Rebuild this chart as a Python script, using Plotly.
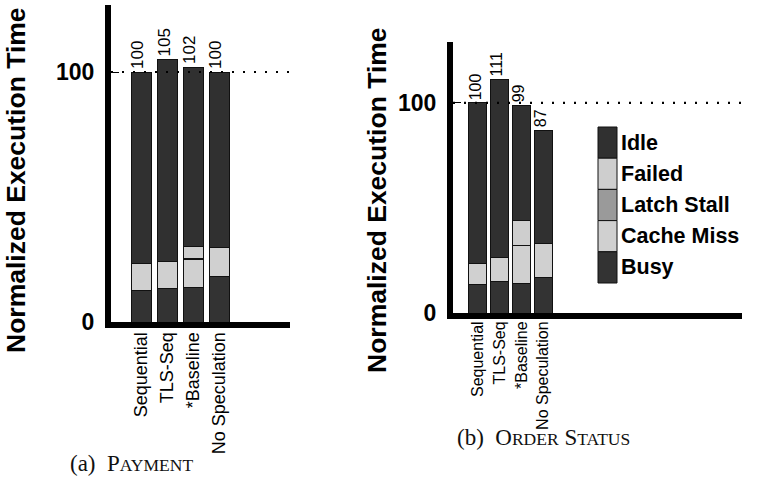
import plotly.graph_objects as go

# ---------------- data ----------------
categories = ["Sequential", "TLS-Seq", "*Baseline", "No Speculation"]
series_names = ["Busy", "Cache Miss", "Latch Stall", "Failed", "Idle"]

# (a) PAYMENT
pay_busy = [12.7, 13.5, 13.9, 18.4]
pay_cache = [10.8, 10.9, 11.2, 11.5]
pay_latch = [0.0, 0.0, 0.3, 0.0]
pay_failed = [0.0, 0.0, 5.0, 0.0]
pay_idle = [76.5, 80.6, 71.6, 70.1]
pay_totals = [100, 105, 102, 100]

# (b) ORDER STATUS
ord_busy = [13.8, 14.9, 14.1, 17.0]
ord_cache = [9.9, 11.6, 17.8, 15.9]
ord_latch = [0.0, 0.0, 0.3, 0.3]
ord_failed = [0.0, 0.0, 11.6, 0.0]
ord_idle = [76.3, 84.5, 55.2, 53.8]
ord_totals = [100, 111, 99, 87]

y_tickvals = [0, 100]
captions = ["(a)", "PAYMENT", "(b)", "ORDER STATUS"]
y_title = "Normalized Execution Time"

# ---------------- styles ----------------
colors = {"Busy": "#333333", "Cache Miss": "#d0d0d0", "Latch Stall": "#9a9a9a",
          "Failed": "#cecece", "Idle": "#303030"}
SANS = "Liberation Sans, Arial, sans-serif"
SERIF = "Liberation Serif, Times New Roman, serif"

fig = go.Figure()

panels = [
    ("x", "y", [pay_busy, pay_cache, pay_latch, pay_failed, pay_idle], 0.77),
    ("x2", "y2", [ord_busy, ord_cache, ord_latch, ord_failed, ord_idle], 0.83),
]
for xa, ya, vals, w in panels:
    for name, v in zip(series_names, vals):
        fig.add_trace(go.Bar(
            x=categories, y=v, name=name, xaxis=xa, yaxis=ya, width=w,
            marker=dict(color=colors[name], line=dict(color="#111111", width=1)),
            showlegend=False, hoverinfo="skip",
        ))

annotations = []
# total labels above bars
for xa, ya, totals, fs in [("x", "y", pay_totals, 17), ("x2", "y2", ord_totals, 16)]:
    for c, t in zip(categories, totals):
        annotations.append(dict(
            x=c, y=t, xref=xa, yref=ya, text=str(t), textangle=-90,
            showarrow=False, yanchor="bottom", xanchor="center", xshift=-3, yshift=1,
            font=dict(family=SANS, size=fs, color="black"),
        ))

# y-axis titles
for xc, yc in [(16, 180), (377, 200)]:
    annotations.append(dict(
        x=xc / 770, y=1 - yc / 483, xref="paper", yref="paper", text=y_title,
        textangle=-90, showarrow=False, xanchor="center", yanchor="middle",
        font=dict(family=SANS, size=26.5, color="black", weight="bold"),
    ))

# captions
for (lab, word), (xl, yc) in [((captions[0], captions[1]), (68, 463)),
                              ((captions[2], captions[3]), (455, 437))]:
    parts = []
    for tok in word.split(" "):
        parts.append(tok[0] + "<span style='font-size:17.5px'>" + tok[1:] + "</span>")
    annotations.append(dict(
        x=xl / 770, y=1 - yc / 483, xref="paper", yref="paper",
        text=lab + "  " + " ".join(parts), showarrow=False,
        xanchor="left", yanchor="middle",
        font=dict(family=SERIF, size=23, color="#111111"),
    ))

# legend as stacked swatch column (top = Idle)
shapes = []
leg_x0, leg_x1, leg_top, seg_h = 598, 617, 127, 31.2
for i, name in enumerate(reversed(series_names)):
    y0 = leg_top + i * seg_h
    shapes.append(dict(
        type="rect", xref="paper", yref="paper",
        x0=leg_x0 / 770, x1=leg_x1 / 770, y0=1 - y0 / 483, y1=1 - (y0 + seg_h) / 483,
        fillcolor=colors[name], line=dict(color="#111111", width=1),
    ))
    annotations.append(dict(
        x=619 / 770, y=1 - (y0 + seg_h / 2) / 483, xref="paper", yref="paper",
        text=name, showarrow=False, xanchor="left", yanchor="middle",
        font=dict(family=SANS, size=21.5, color="black", weight="bold"),
    ))

# dotted reference lines at 100
for xa, ya in [("x", "y"), ("x2", "y2")]:
    shapes.append(dict(
        type="line", xref=xa + " domain", yref=ya, x0=0, x1=1, y0=100, y1=100,
        line=dict(color="black", width=2.2, dash="2px,9px"), layer="above",
    ))

common_x = dict(type="category", showline=True, linewidth=6, linecolor="black",
                ticks="", showgrid=False, zeroline=False, tickangle=-90,
                automargin=False, fixedrange=True)
common_y = dict(showline=True, linewidth=6, linecolor="black", tickvals=y_tickvals,
                ticks="inside", ticklen=8, tickwidth=1, tickcolor="black",
                showgrid=False, zeroline=False, automargin=False, ticklabelstandoff=6,
                fixedrange=True,
                tickfont=dict(family=SANS, size=23, color="black", weight="bold"))

fig.update_layout(
    width=770, height=483, margin=dict(l=0, r=0, t=0, b=0),
    paper_bgcolor="white", plot_bgcolor="white", barmode="stack",
    showlegend=False, template="none",
    xaxis=dict(common_x, domain=[111 / 770, 290 / 770], anchor="y", range=[-1.154, 5.73],
               ticklabelstandoff=-3,
               tickfont=dict(family=SANS, size=18, color="black")),
    yaxis=dict(common_y, domain=[1 - 322 / 483, 1 - 5 / 483], anchor="x", range=[0, 126.8]),
    xaxis2=dict(common_x, domain=[453 / 770, 742 / 770], anchor="y2", range=[-1.15, 12.17],
                ticklabelstandoff=-4,
                tickfont=dict(family=SANS, size=16, color="black")),
    yaxis2=dict(common_y, domain=[1 - 313 / 483, 1 - 42 / 483], anchor="x2", range=[0, 129]),
    annotations=annotations, shapes=shapes,
)

fig.write_html("out.html", config={"displayModeBar": False},
               post_script="document.body.style.margin='0px';")
